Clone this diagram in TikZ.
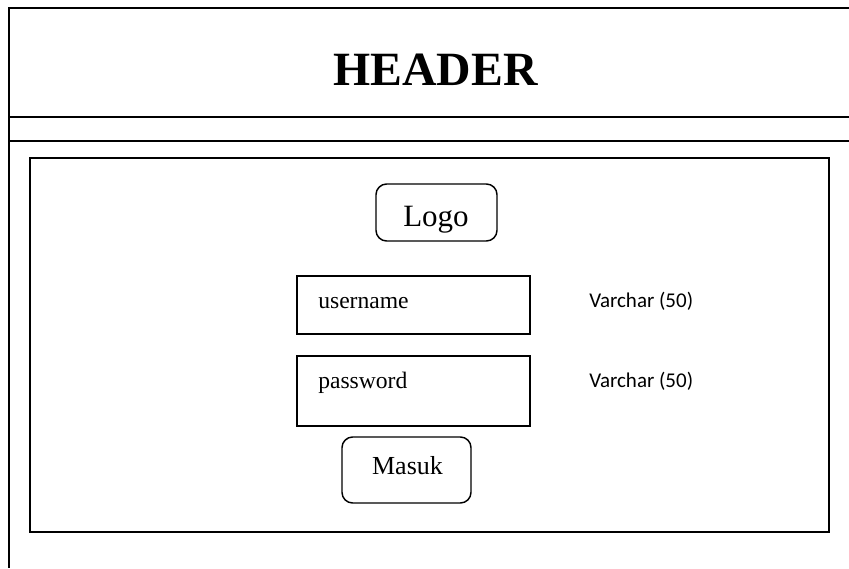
\documentclass[tikz,border=0pt]{standalone}
\usepackage{fontspec}
\setmainfont{Liberation Serif}
\newfontfamily\calib{Carlito}
\begin{document}
\begin{tikzpicture}[x=0.75pt,y=-0.75pt,
  frameline/.style={line width=1.3pt},
  panel/.style={draw, line width=1.5pt, inner sep=0pt},
  field/.style={draw, line width=1.1pt, inner sep=0pt},
  button/.style={draw, line width=1.1pt, rounded corners=8pt, inner sep=0pt},
  lbl/.style={inner sep=0pt},
  typelbl/.style={inner sep=0pt, anchor=base west, font=\calib\fontsize{15.75}{18}\selectfont}]
\useasboundingbox (0,0) rectangle (849,568);
% outer frame (cut off at right and bottom)
\coordinate (tr) at (849,8);
\coordinate (tl) at (9,8);
\coordinate (bl) at (9,568);
\coordinate (h1l) at (9,117);
\coordinate (h1r) at (849,117);
\coordinate (h2l) at (9,141);
\coordinate (h2r) at (849,141);
\draw[frameline] (tr) -- (tl) -- (bl);
\draw[frameline] (h1l) -- (h1r);
\draw[frameline] (h2l) -- (h2r);
\node[lbl, anchor=base, font=\bfseries\fontsize{35.8}{42}\selectfont] (header) at (435.5,85) {HEADER};
% inner panel
\node[panel, minimum width=799*0.75pt, minimum height=374*0.75pt] (panel) at (429.5,345) {};
% logo
\node[button, minimum width=121*0.75pt, minimum height=57*0.75pt] (logobox) at (436.5,212.5) {};
\node[lbl, anchor=base, font=\fontsize{23.25}{28}\selectfont] (logo) at (436,226) {Logo};
% username
\node[field, minimum width=233*0.75pt, minimum height=58*0.75pt] (userbox) at (413.5,305) {};
\node[lbl, anchor=base west, font=\fontsize{17.7}{21}\selectfont] (user) at (318,308) {username};
\node[typelbl] (usertype) at (589,307) {Varchar (50)};
% password
\node[field, minimum width=233*0.75pt, minimum height=70*0.75pt] (passbox) at (413.5,391) {};
\node[lbl, anchor=base west, font=\fontsize{17.7}{21}\selectfont] (pass) at (318,388) {password};
\node[typelbl] (passtype) at (589,387) {Varchar (50)};
% masuk
\node[button, minimum width=129*0.75pt, minimum height=66*0.75pt] (masukbox) at (406.5,470) {};
\node[lbl, anchor=base, font=\fontsize{19.5}{23}\selectfont] (masuk) at (407.5,474) {Masuk};
\end{tikzpicture}
\end{document}
